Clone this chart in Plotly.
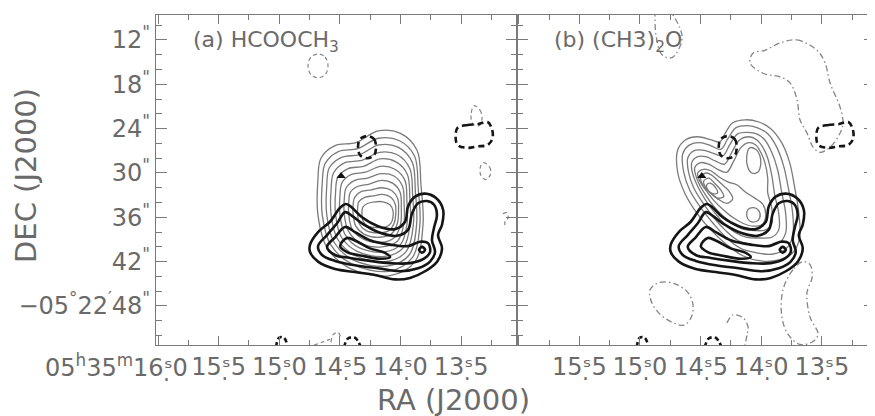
import plotly.graph_objects as go

# ---------------- axis data ----------------
# RA in seconds of 05h35m, Dec in arcsec of -05d22m
ra_tick_vals = [16.0, 15.5, 15.0, 14.5, 14.0, 13.5]
ra_tick_text_a = ["", "15\u02e2\u03235", "15\u02e2\u03230", "14\u02e2\u03235", "14\u02e2\u03230", "13\u02e2\u03235"]
ra_tick_text_b = ["", "15\u02e2\u03235", "15\u02e2\u03230", "14\u02e2\u03235", "14\u02e2\u03230", "13\u02e2\u03235"]
ra_first_label = "05<sup>h</sup>35<sup>m</sup>16\u02e2\u03230"
dec_tick_vals = [12, 18, 24, 30, 36, 42, 48]
dec_tick_text = ['12<sup>"</sup>', '18<sup>"</sup>', '24<sup>"</sup>', '30<sup>"</sup>',
                 '36<sup>"</sup>', '42<sup>"</sup>', '\u221205<sup>\u00b0</sup>22<sup>\u2032</sup>48<sup>"</sup>']
ra_range_a = [16.017, 13.041]
ra_range_b = [16.017, 13.061]
dec_range = [53.28, 8.62]

# ---------------- thick black contours (same in both panels) ----------------
blk1_ra = [14.746,14.680,14.581,14.498,14.449,14.399,14.317,14.185,14.045,13.962,13.937,13.880,13.797,13.706,13.648,13.657,13.690,13.657,13.698,13.797,13.921,14.045,14.210,14.375,14.540,14.680,14.746]
blk1_dec = [39.7,38.0,36.6,34.7,34.2,34.7,36.0,37.2,37.6,36.6,34.5,33.2,32.8,33.4,35.0,37.0,38.4,40.2,42.0,43.3,44.2,44.4,43.8,43.4,43.0,42.0,40.7]
blk2_ra = [14.680,14.606,14.523,14.457,14.400,14.301,14.168,14.029,13.938,13.905,13.855,13.781,13.723,13.699,13.723,13.740,13.715,13.756,13.855,14.003,14.185,14.375,14.540,14.647]
blk2_dec = [39.9,38.4,36.8,35.3,35.8,37.0,38.1,38.5,37.7,35.5,34.1,33.8,34.3,35.7,37.4,39.1,40.7,42.0,42.9,43.3,42.9,42.5,41.9,41.1]
blk3_ra = [14.606,14.540,14.457,14.375,14.251,14.086,13.938,13.839,13.773,13.756,13.806,13.921,14.086,14.251,14.416,14.540]
blk3_dec = [40.0,38.7,37.3,38.0,39.1,39.7,39.9,39.3,39.5,40.7,41.6,42.2,42.2,41.9,41.5,41.1]
blk4_ra = [14.498,14.441,14.367,14.251,14.127,14.086,14.168,14.317,14.441]
blk4_dec = [39.9,38.8,39.2,40.2,40.8,41.4,41.6,41.2,40.7]
blk5_ra = [13.847,13.822,13.797,13.822]
blk5_dec = [40.4,40.0,40.4,40.8]

# thick dashed (negative) black contours
bneg1_ra = [14.276,14.218,14.202,14.218,14.276,14.333,14.350,14.333]
bneg1_dec = [25.0,25.4,26.5,27.6,28.0,27.6,26.5,25.4]
bneg2_ra = [13.529,13.446,13.364,13.281,13.248,13.240,13.281,13.364,13.446,13.529,13.545]
bneg2_dec = [23.9,23.5,23.4,23.1,23.9,25.3,26.2,26.4,26.6,26.2,25.0]
bneg3_ra = [15.027,15.002,14.961,14.928]
bneg3_dec = [53.6,52.3,52.3,53.6]
bneg4_ra = [14.466,14.433,14.375,14.326]
bneg4_dec = [53.6,52.4,52.3,53.6]

# ---------------- thin gray contours, panel (a) HCOOCH3 ----------------
ga_ra = [
    [14.656,14.540,14.367,14.185,14.004,13.864,13.831,13.814,13.880,14.087,14.417,14.606,14.681,14.681],
    [14.621,14.513,14.351,14.181,14.012,13.884,13.854,13.840,13.904,14.098,14.402,14.576,14.645,14.645],
    [14.587,14.486,14.336,14.177,14.021,13.904,13.877,13.867,13.928,14.108,14.387,14.547,14.608,14.608],
    [14.552,14.458,14.320,14.173,14.029,13.923,13.900,13.893,13.952,14.119,14.372,14.517,14.572,14.572],
    [14.517,14.431,14.304,14.169,14.037,13.943,13.923,13.920,13.976,14.130,14.357,14.487,14.535,14.535],
    [14.482,14.404,14.289,14.165,14.046,13.963,13.947,13.946,14.000,14.141,14.343,14.458,14.499,14.499],
    [14.448,14.377,14.273,14.160,14.054,13.983,13.970,13.972,14.024,14.151,14.328,14.428,14.463,14.463],
    [14.413,14.350,14.257,14.156,14.062,14.003,13.993,13.999,14.048,14.162,14.313,14.398,14.426,14.426],
    [14.378,14.322,14.241,14.152,14.070,14.022,14.016,14.025,14.072,14.173,14.298,14.368,14.390,14.390],
    [14.344,14.295,14.226,14.148,14.079,14.042,14.039,14.052,14.096,14.183,14.283,14.339,14.353,14.353],
    [14.309,14.268,14.210,14.144,14.087,14.062,14.062,14.078,14.120,14.194,14.268,14.309,14.317,14.317],
]
ga_dec = [
    [28.0,26.3,25.9,24.3,24.6,26.9,31.6,37.0,42.0,43.9,42.9,40.1,35.7,30.9],
    [28.7,27.1,26.7,25.3,25.6,27.7,32.0,37.0,41.5,43.3,42.3,39.7,35.7,31.3],
    [29.3,27.9,27.5,26.2,26.5,28.5,32.5,37.0,41.1,42.6,41.8,39.4,35.7,31.7],
    [30.0,28.6,28.3,27.2,27.5,29.4,32.9,36.9,40.6,42.0,41.2,39.0,35.7,32.1],
    [30.6,29.4,29.1,28.1,28.5,30.2,33.4,36.9,40.1,41.3,40.6,38.7,35.7,32.5],
    [31.3,30.2,29.9,29.1,29.5,31.0,33.8,36.9,39.7,40.7,40.1,38.3,35.7,33.0],
    [32.0,31.0,30.7,30.1,30.4,31.8,34.2,36.9,39.2,40.0,39.5,37.9,35.7,33.4],
    [32.6,31.8,31.5,31.0,31.4,32.6,34.7,36.9,38.7,39.4,38.9,37.6,35.7,33.8],
    [33.3,32.5,32.3,32.0,32.4,33.5,35.1,36.8,38.2,38.7,38.3,37.2,35.7,34.2],
    [33.9,33.3,33.1,32.9,33.3,34.3,35.6,36.8,37.8,38.1,37.8,36.9,35.7,34.6],
    [34.6,34.1,33.9,33.9,34.3,35.1,36.0,36.8,37.3,37.4,37.2,36.5,35.7,35.0],
]
# thin dashed (negative) gray contours, panel (a)
ga_neg_ra = [
    [14.680,14.622,14.598,14.622,14.680,14.738,14.763,14.738],
    [13.393,13.344,13.327,13.352,13.402,13.418],
    [13.314,13.265,13.257,13.298,13.339,13.339],
]
ga_neg_dec = [
    [13.9,14.3,15.5,16.7,17.1,16.7,15.5,14.3],
    [20.9,21.5,22.6,23.6,23.4,22.2],
    [28.6,29.2,30.2,30.9,30.2,29.1],
]
ga_open_ra = [
    [13.154,13.121,13.113,13.137,13.137],
    [14.713,14.647,14.581],
    [14.573,14.557,14.515,14.491],
]
ga_open_dec = [
    [35.5,35.4,36.1,36.5,37.2],
    [53.3,52.9,52.5],
    [52.9,51.9,51.6,52.3],
]

# ---------------- thin gray contours, panel (b) (CH3)2O ----------------
gb_ra = [
    [14.689,14.623,14.524,14.416,14.342,14.293,14.235,14.128,14.020,13.921,13.831,13.765,13.723,13.690,13.682,13.740,13.864,14.004,14.152,14.284,14.416,14.532,14.631,14.689],
    [14.647,14.590,14.507,14.416,14.334,14.276,14.210,14.119,14.029,13.946,13.872,13.814,13.773,13.740,13.740,13.798,13.913,14.037,14.169,14.284,14.392,14.499,14.590,14.639],
    [14.606,14.557,14.482,14.400,14.317,14.260,14.194,14.111,14.037,13.971,13.913,13.864,13.831,13.798,13.798,13.855,13.963,14.078,14.194,14.293,14.383,14.474,14.557,14.598],
    [14.573,14.524,14.458,14.375,14.301,14.243,14.177,14.103,14.037,13.987,13.946,13.913,13.888,13.855,13.855,13.913,14.012,14.119,14.218,14.301,14.383,14.458,14.524,14.565],
    [14.548,14.499,14.433,14.359,14.284,14.227,14.169,14.103,14.045,14.004,13.971,13.946,13.946,13.913,13.913,13.963,14.053,14.152,14.235,14.317,14.392,14.458,14.515,14.540],
    [14.095,14.045,14.012,14.004,14.029,14.078,14.111,14.119],
    [14.524,14.474,14.416,14.350,14.276,14.202,14.128,14.053,13.987,13.963,13.987,14.062,14.152,14.235,14.317,14.392,14.458,14.507],
    [14.111,14.062,14.020,14.012,14.045,14.095,14.119],
    [14.499,14.449,14.392,14.326,14.268,14.235,14.284,14.359,14.425,14.482],
    [14.474,14.433,14.383,14.334,14.309,14.359,14.416,14.458],
    [14.449,14.416,14.375,14.359,14.400,14.441],
]
gb_dec = [
    [26.9,25.5,25.1,25.5,25.8,24.5,23.2,22.8,23.1,24.0,25.9,28.6,32.0,35.4,38.7,40.8,41.8,41.9,41.2,39.7,37.7,35.4,32.7,29.9],
    [27.4,26.2,25.9,26.3,26.8,25.4,23.9,23.6,23.9,24.7,26.5,29.1,32.3,35.5,38.5,40.3,41.0,40.8,40.2,38.8,36.9,34.7,32.3,29.9],
    [28.0,27.0,26.9,27.3,27.7,26.2,24.7,24.5,24.7,25.5,27.2,29.6,32.6,35.5,38.1,39.5,39.9,39.7,39.1,37.8,36.2,34.2,32.0,30.0],
    [28.6,27.8,27.8,28.4,28.8,27.2,25.5,25.1,25.5,26.5,28.0,30.3,33.0,35.5,37.7,38.7,38.8,38.7,38.0,36.9,35.4,33.7,31.8,30.1],
    [29.3,28.6,28.8,29.5,29.9,28.4,26.6,25.9,26.2,27.2,28.5,30.7,32.7,34.7,36.9,37.7,37.8,37.6,36.9,35.8,34.5,33.0,31.4,30.3],
    [26.6,26.8,27.6,28.9,29.9,30.0,29.2,27.7],
    [30.0,29.5,29.7,30.5,31.2,31.6,32.6,33.4,34.2,35.7,36.9,37.2,36.8,36.0,34.9,33.7,32.3,31.1],
    [35.0,34.7,35.1,36.1,36.6,36.5,35.8],
    [30.5,30.0,30.5,31.5,32.4,33.5,34.1,33.5,32.6,31.6],
    [31.1,30.7,31.4,32.3,33.2,33.4,32.7,32.0],
    [31.6,31.4,32.0,32.7,32.8,32.3],
]
gb_neg_ra = [
    [13.845,13.704,13.539,13.473,13.432,13.349,13.325,13.349,13.432,13.515,13.572,13.622,13.680,13.704,13.762,13.845,13.985,14.092,14.068,13.969],
    [14.917,14.835,14.711,14.604,14.562,14.579,14.637,14.736,14.835,14.901],
    [13.655,13.738,13.820,13.829,13.779,13.680,13.572,13.531,13.597,13.622,13.580,13.597],
]
gb_neg_dec = [
    [12.4,12.0,13.4,15.1,17.8,21.1,23.2,24.6,26.5,27.2,26.5,24.6,22.8,20.1,17.8,17.0,16.5,15.1,13.8,13.4],
    [45.8,44.8,45.0,46.2,47.9,49.6,50.6,50.2,49.1,47.6],
    [42.0,43.1,45.8,49.5,51.8,53.2,52.8,51.8,49.5,46.2,44.1,42.4],
]
gb_open_ra = [
    [14.876,14.868,14.818,14.736,14.653,14.670,14.752],
    [14.282,14.233,14.150,14.109,14.117,14.136],
]
gb_open_dec = [
    [8.0,11.3,14.0,14.4,12.0,10.4,8.0],
    [50.3,49.2,49.6,50.8,51.9,53.5],
]

# source position (triangle)
src_ra = [14.49]
src_dec = [30.4]

# ---------------- figure ----------------
GRAY_TXT = "#6a6a6a"
FRAME = "#7a7a7a"
FONT = "DejaVu Sans"

fig = go.Figure()


def add_path(ra, dec, panel, color, width, dash="solid", closed=True):
    xs = list(ra) + ([ra[0]] if closed else [])
    ys = list(dec) + ([dec[0]] if closed else [])
    sfx = "" if panel == 1 else "2"
    fig.add_trace(go.Scatter(
        x=xs, y=ys, xaxis="x" + sfx, yaxis="y" + sfx, mode="lines",
        line=dict(color=color, width=width, dash=dash, shape="spline", smoothing=1.0),
        hoverinfo="skip", showlegend=False))


for panel in (1, 2):
    if panel == 1:
        for r, d in zip(ga_ra, ga_dec):
            add_path(r, d, 1, "#7a7a7a", 1.3)
        for r, d in zip(ga_neg_ra, ga_neg_dec):
            add_path(r, d, 1, "#858585", 1.2, dash="4px,3px")
        for r, d in zip(ga_open_ra, ga_open_dec):
            add_path(r, d, 1, "#858585", 1.2, dash="4px,3px", closed=False)
    else:
        for r, d in zip(gb_ra, gb_dec):
            add_path(r, d, 2, "#7a7a7a", 1.3)
        for r, d in zip(gb_neg_ra, gb_neg_dec):
            add_path(r, d, 2, "#858585", 1.3, dash="6px,3px,1.5px,3px")
        for r, d in zip(gb_open_ra, gb_open_dec):
            add_path(r, d, 2, "#858585", 1.3, dash="6px,3px,1.5px,3px", closed=False)
    for r, d in [(blk1_ra, blk1_dec), (blk2_ra, blk2_dec), (blk3_ra, blk3_dec),
                 (blk4_ra, blk4_dec), (blk5_ra, blk5_dec)]:
        add_path(r, d, panel, "#151515", 2.6)
    for r, d in [(bneg1_ra, bneg1_dec), (bneg2_ra, bneg2_dec)]:
        add_path(r, d, panel, "#151515", 2.6, dash="6px,4px")
    for r, d in [(bneg3_ra, bneg3_dec), (bneg4_ra, bneg4_dec)]:
        add_path(r, d, panel, "#151515", 2.6, dash="5px,3px", closed=False)
    sfx = "" if panel == 1 else "2"
    fig.add_trace(go.Scatter(x=src_ra, y=src_dec, xaxis="x" + sfx, yaxis="y" + sfx,
                             mode="markers", marker=dict(symbol="triangle-up", size=8, color="#111"),
                             hoverinfo="skip", showlegend=False))

# reference-frame geometry (page has an 8px body margin, so the figure is shifted)
PAGE = 8
L, W, T, H = 156, 719, 15, 330
split = 360.7 / W

common = dict(showline=True, linecolor=FRAME, linewidth=1.3, mirror="ticks",
              ticks="inside", tickcolor=FRAME, tickwidth=1.1, showgrid=False,
              zeroline=False, tickfont=dict(family=FONT, size=24, color=GRAY_TXT))

xminor = dict(tick0=0, dtick=0.25, ticks="inside", ticklen=5, tickcolor=FRAME, tickwidth=1.0)
yminor = dict(tick0=0, dtick=2, ticks="inside", ticklen=6, tickcolor=FRAME, tickwidth=1.0)

fig.update_layout(
    width=875 - PAGE, height=416 - PAGE,
    margin=dict(l=L - PAGE, r=0, t=T - PAGE, b=416 - T - H, pad=0),
    paper_bgcolor="white", plot_bgcolor="white",
    xaxis=dict(common, domain=[0, split], range=ra_range_a, anchor="y",
               tickmode="array", tickvals=ra_tick_vals, ticktext=ra_tick_text_a, ticklen=9,
               ticklabelstandoff=0, minor=xminor),
    yaxis=dict(common, domain=[0, 1], range=dec_range, anchor="x",
               tickmode="array", tickvals=dec_tick_vals, ticktext=dec_tick_text, ticklen=11,
               minor=yminor),
    xaxis2=dict(common, domain=[split, 1], range=ra_range_b, anchor="y2",
                tickmode="array", tickvals=ra_tick_vals, ticktext=ra_tick_text_b, ticklen=9,
                ticklabelstandoff=0, minor=xminor),
    yaxis2=dict(common, domain=[0, 1], range=dec_range, anchor="x2", showticklabels=False,
                tickmode="array", tickvals=dec_tick_vals, ticklen=11, minor=yminor),
    annotations=[
        dict(text="(a) HCOOCH<sub>3</sub>", xref="paper", yref="paper", x=(191 - L) / W, y=(T + H - 42) / H,
             xanchor="left", yanchor="middle", showarrow=False, font=dict(family=FONT, size=22, color=GRAY_TXT)),
        dict(text="(b) (CH3)<sub>2</sub>O", xref="paper", yref="paper", x=(552 - L) / W, y=(T + H - 42) / H,
             xanchor="left", yanchor="middle", showarrow=False, font=dict(family=FONT, size=22, color=GRAY_TXT)),
        dict(text="RA (J2000)", xref="paper", yref="paper", x=(453 - L) / W, y=-(400 - T - H) / H,
             xanchor="center", yanchor="middle", showarrow=False, font=dict(family=FONT, size=29, color=GRAY_TXT)),
        dict(text="DEC (J2000)", xref="paper", yref="paper", x=(26 - L) / W, y=(T + H - 176) / H,
             xanchor="center", yanchor="middle", textangle=-90, showarrow=False,
             font=dict(family=FONT, size=29, color=GRAY_TXT)),
        dict(text=ra_first_label, xref="paper", yref="paper", x=(190 - L) / W, y=-(366 - T - H) / H,
             xanchor="right", yanchor="middle", showarrow=False, font=dict(family=FONT, size=24, color=GRAY_TXT)),
    ],
)

fig.write_html("out.html")
